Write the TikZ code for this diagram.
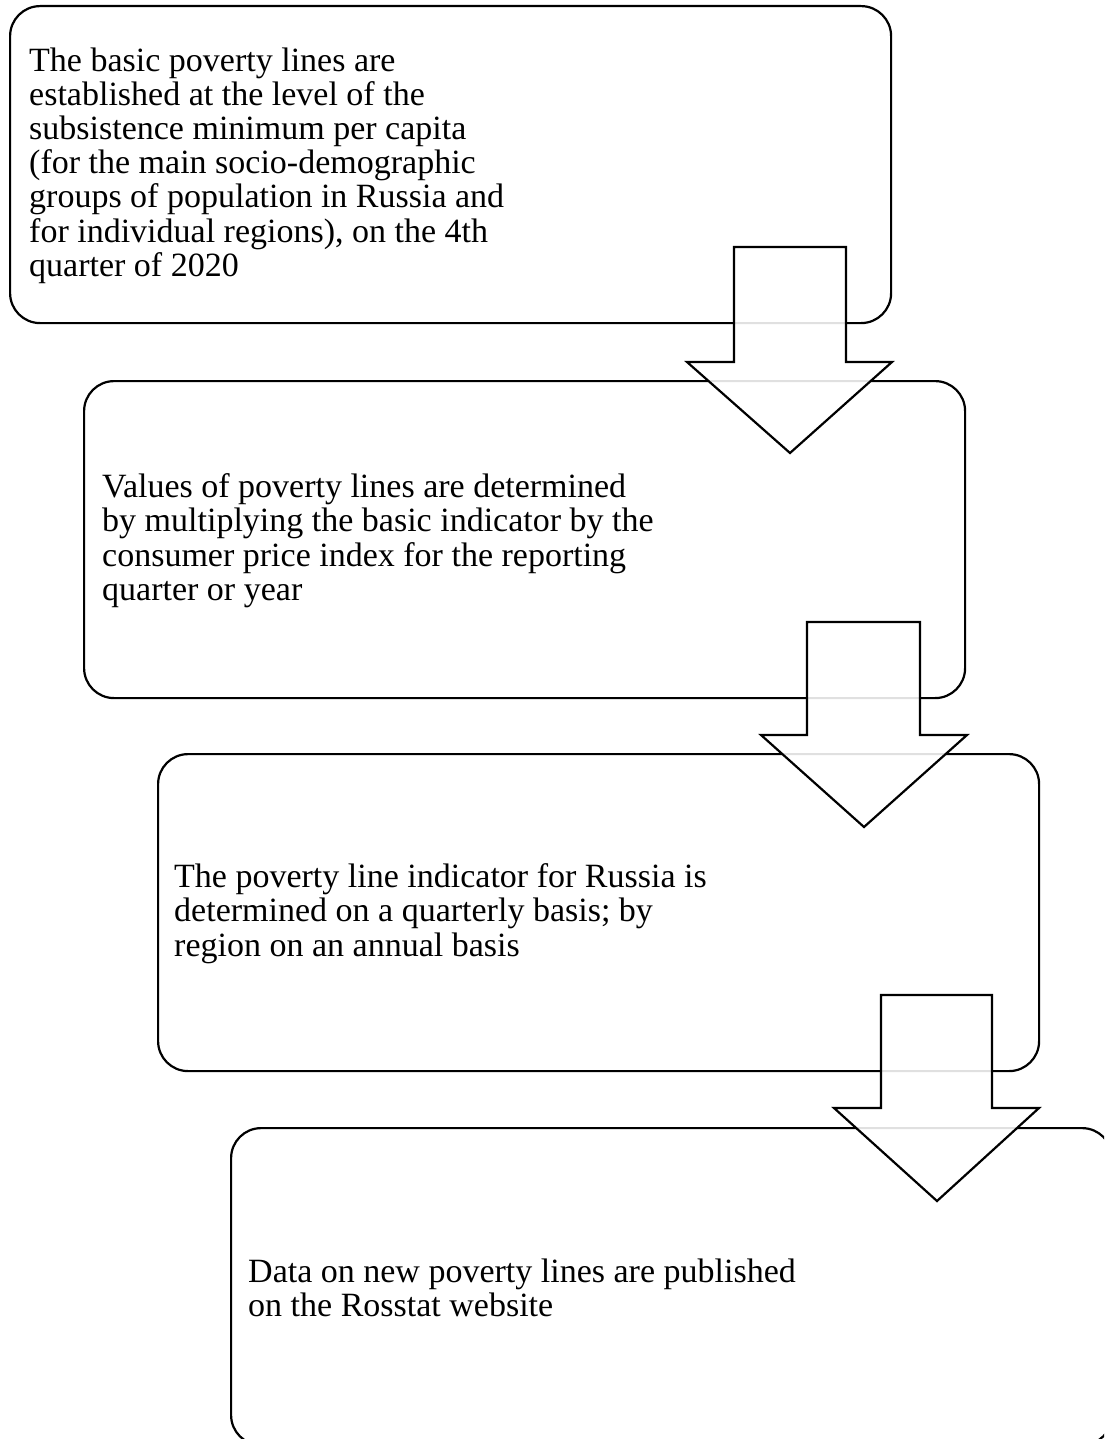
\documentclass[tikz,border=0pt]{standalone}
\usepackage{fontspec}
\setmainfont{Liberation Serif}
\begin{document}
\begin{tikzpicture}[x=1pt,y=-1pt,
  box/.style={draw=black, line width=2.2pt, rounded corners=30pt, rectangle, fill=none,
    minimum width=881pt, minimum height=317pt, anchor=north west, inner sep=0pt},
  txt/.style={align=left, anchor=west, inner sep=0pt, font=\fontsize{34}{34.2}\selectfont},
  blockarrow/.style={draw=black, line width=2.2pt, fill=white, fill opacity=0.88, line join=miter}
]
\useasboundingbox (0,0) rectangle (1104,1439);
\clip (0,0) rectangle (1104,1439);
\node[box] (b1) at (9,5) {};
\node[box] (b2) at (83,380) {};
\node[box] (b3) at (157,753) {};
\node[box] (b4) at (230,1127) {};

\node[txt] (t1) at ([xshift=20pt,yshift=-1pt]b1.west) {The basic poverty lines are\\established at the level of the\\subsistence minimum per capita\\(for the main socio-demographic\\groups of population in Russia and\\for individual regions), on the 4th\\quarter of 2020};
\node[txt] (t2) at ([xshift=19pt,yshift=-1pt]b2.west) {Values of poverty lines are determined\\by multiplying the basic indicator by the\\consumer price index for the reporting\\quarter or year};
\node[txt] (t3) at ([xshift=17pt,yshift=-1pt]b3.west) {The poverty line indicator for Russia is\\determined on a quarterly basis; by\\region on an annual basis};
\node[txt] (t4) at ([xshift=18pt,yshift=-1pt]b4.west) {Data on new poverty lines are published\\on the Rosstat website};

\coordinate (a1) at (790,453);
\coordinate (a2) at (864,827);
\coordinate (a3) at (937,1201);
\draw[blockarrow] (734,247) -- (846,247) -- (846,362) -- (892,362) -- (a1) -- (687,362) -- (734,362) -- cycle;
\draw[blockarrow] (807,622) -- (920,622) -- (920,735) -- (967,735) -- (a2) -- (761,735) -- (807,735) -- cycle;
\draw[blockarrow] (881,995) -- (992,995) -- (992,1108) -- (1039,1108) -- (a3) -- (834,1108) -- (881,1108) -- cycle;
\end{tikzpicture}
\end{document}
